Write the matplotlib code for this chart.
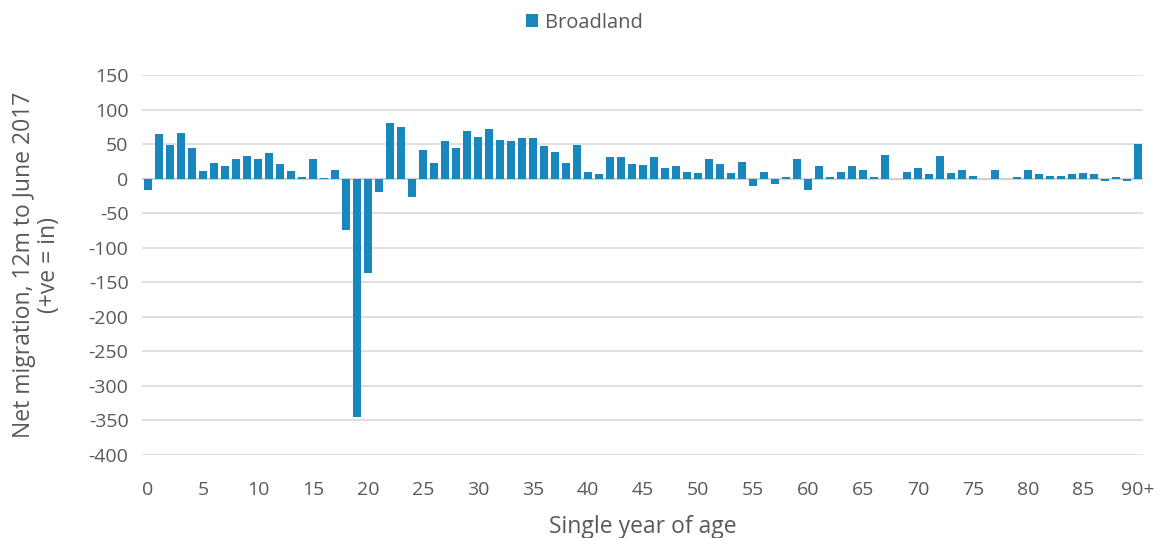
import matplotlib
matplotlib.use("Agg")
import matplotlib.pyplot as plt
import numpy as np

ages = list(range(91))
tick_positions = list(range(0, 91, 5))
tick_labels = [str(a) for a in range(0, 90, 5)] + ["90+"]
values = [
    -16, 65, 48, 66, 44, 11, 23, 19, 28, 33,
    28, 37, 21, 11, 3, 28, 1, 13, -74, -345,
    -136, -20, 80, 75, -27, 41, 23, 54, 44, 69,
    60, 72, 56, 54, 59, 59, 47, 38, 23, 48,
    9, 7, 31, 31, 21, 20, 32, 16, 18, 9,
    8, 28, 21, 8, 24, -10, 9, -8, 2, 29,
    -16, 19, 2, 10, 19, 13, 2, 34, 0, 9,
    16, 7, 33, 8, 12, 4, 0, 12, 0, 2,
    12, 7, 4, 4, 7, 8, 6, -4, 3, -4, 50,
]
series_name = "Broadland"

plt.rcParams['font.family'] = ['Open Sans', 'DejaVu Sans']
plt.rcParams['axes.unicode_minus'] = False
text_color = '#595959'
bar_color = '#1887BE'

fig = plt.figure(figsize=(11.62, 5.38), dpi=100)
ax = fig.add_axes([0.1226, 0.1543, 0.984 - 0.1226, 0.8606 - 0.1543])

ax.bar(ages, values, width=0.66, color=bar_color, zorder=3, label=series_name)
ax.set_xlim(-0.5, 90.5)
ax.set_ylim(-400, 150)
ax.set_yticks(range(-400, 151, 50))
ax.set_xticks(tick_positions)
ax.set_xticklabels(tick_labels)
ax.grid(axis='y', color='#d9d9d9', linewidth=1.2, zorder=0)
ax.axhline(0, color='#d0d0d0', linewidth=1.5, zorder=2)
for s in ax.spines.values():
    s.set_visible(False)
ax.tick_params(axis='both', length=0, labelsize=14, colors=text_color)
ax.tick_params(axis='x', pad=19)
ax.tick_params(axis='y', pad=10)

ax.set_xlabel("Single year of age", fontsize=16.5, color=text_color, labelpad=11)
ax.set_ylabel("Net migration, 12m to June 2017\n(+ve = in)", fontsize=16.5,
              color=text_color, labelpad=20, linespacing=1.05)

leg = fig.legend(loc='center', bbox_to_anchor=(0.503, 0.958), frameon=False,
                 fontsize=14.5, handlelength=0.6, handleheight=0.6, handletextpad=0.35)
for t in leg.get_texts():
    t.set_color(text_color)

fig.savefig("out.png", dpi=100)
